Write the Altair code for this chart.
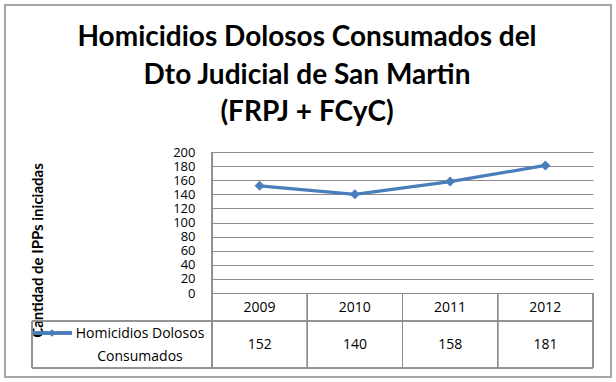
import altair as alt
import pandas as pd

years = ["2009", "2010", "2011", "2012"]
values = [152, 140, 158, 181]
series_name = "Homicidios Dolosos Consumados"
title_lines = ["Homicidios Dolosos Consumados del", "Dto Judicial de San Martin", "(FRPJ + FCyC)"]
y_title = "Cantidad de IPPs iniciadas"
legend_lines = ["Homicidios Dolosos", "Consumados"]
y_ticks = [0, 20, 40, 60, 80, 100, 120, 140, 160, 180, 200]

W, H = 381, 141
BLUE = "#4a7ebb"
GRID = "#8c8c8c"
TXT_FONT = "Open Sans"

df = pd.DataFrame({"year": years, "value": values})

xscale = alt.Scale(type="point", domain=years, padding=0.5)
yscale = alt.Scale(domain=[0, 200], nice=False, zero=True)

yaxis = alt.Axis(
    values=y_ticks,
    grid=True,
    gridColor=GRID,
    gridWidth=1,
    gridOpacity=1,
    domain=True,
    domainColor=GRID,
    ticks=False,
    labelOverlap=False,
    labelPadding=17,
    labelFontSize=13,
    labelFont=TXT_FONT,
    labelColor="#000000",
    labelBaseline="middle",
    title=y_title,
    titleFont="Lato",
    titleFontWeight="bold",
    titleFontSize=15,
    titleColor="#000000",
    titleX=-175,
    titleY=98,
    titleAngle=270,
    titleAlign="center",
    titleBaseline="middle",
)
X = alt.X("year:N", scale=xscale, axis=None)
Y = alt.Y("value:Q", scale=yscale, axis=yaxis)

base = alt.Chart(df)

line = base.mark_line(color=BLUE, strokeWidth=3.2).encode(x=X, y=Y)

points = base.mark_point(shape="diamond", filled=True, color=BLUE, size=100, opacity=1).encode(x=X, y=Y)

year_text = base.mark_text(font=TXT_FONT, fontSize=14, color="#000000", baseline="alphabetic").encode(
    x=X, y=alt.value(160), text="year:N"
)

value_text = base.mark_text(font=TXT_FONT, fontSize=14, color="#000000", baseline="alphabetic").encode(
    x=X, y=alt.value(197), text="value:Q"
)

# table grid (decoration)
hlines = [(-180, W, 169), (-180, W, 216)]
vlines = [(0, 0, 216), (-180, 169, 216), (W * 0.25, 141, 216), (W * 0.5, 141, 216), (W * 0.75, 141, 216), (W, 141, 216)]
table_rules = []
for x1, x2, yy in hlines:
    table_rules.append(
        alt.Chart(df).mark_rule(color=GRID, strokeWidth=1).encode(
            x=alt.value(x1), x2=alt.value(x2), y=alt.value(yy)
        )
    )
for xx, y1, y2 in vlines:
    table_rules.append(
        alt.Chart(df).mark_rule(color=GRID, strokeWidth=1).encode(
            x=alt.value(xx), y=alt.value(y1), y2=alt.value(y2)
        )
    )

# legend key inside table
leg_line = alt.Chart(df).mark_rule(color=BLUE, strokeWidth=3).encode(
    x=alt.value(-179), x2=alt.value(-140), y=alt.value(181)
)
leg_pt = alt.Chart(pd.DataFrame({"k": [series_name]})).mark_point(
    shape="diamond", filled=True, color=BLUE, size=60, opacity=1
).encode(x=alt.value(-160), y=alt.value(181))
leg_text = alt.Chart(pd.DataFrame({"t": ["\n".join(legend_lines)]})).mark_text(
    font=TXT_FONT, fontSize=14, color="#000000", lineBreak="\n", lineHeight=23, baseline="alphabetic"
).encode(x=alt.value(-72), y=alt.value(186), text="t:N")

title = alt.Chart(pd.DataFrame({"t": ["\n".join(title_lines)]})).mark_text(
    font="Lato", fontWeight="bold", fontSize=28, color="#000000", lineBreak="\n", lineHeight=37.5,
    baseline="alphabetic",
).encode(x=alt.value(95), y=alt.value(-106), text="t:N")

frame = alt.Chart(df).mark_rect(filled=False, stroke="#a6a6a6", strokeWidth=2).encode(
    x=alt.value(-207), x2=alt.value(399), y=alt.value(-147), y2=alt.value(225)
)

chart = alt.layer(
    frame, *table_rules, line, points, year_text, value_text, leg_line, leg_pt, leg_text, title
).properties(
    width=W,
    height=H,
    autosize=alt.AutoSizeParams(type="none"),
    padding={"left": 212, "top": 152, "right": 23, "bottom": 89},
    background="white",
).configure_view(stroke=None).configure_axis(labelOverlap=False)

chart.save("out.html", embed_options={"renderer": "svg", "actions": False})
